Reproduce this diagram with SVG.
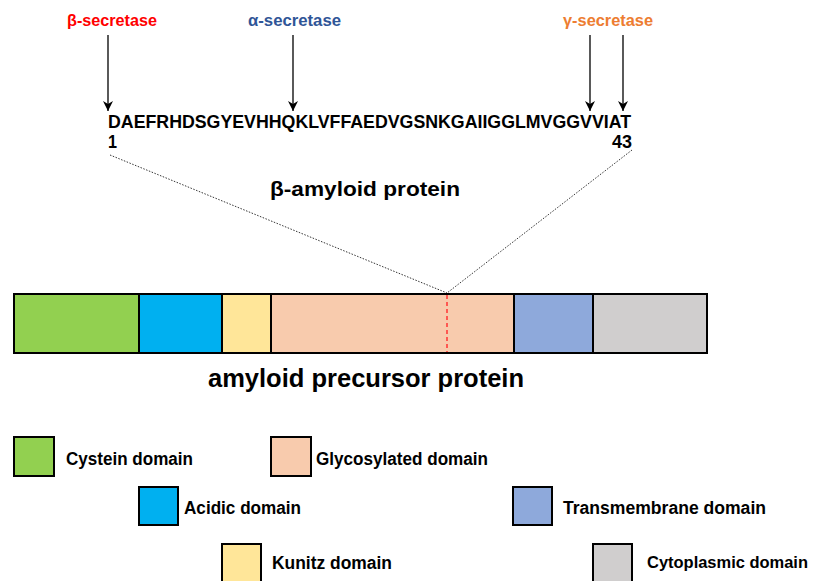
<svg xmlns="http://www.w3.org/2000/svg" width="816" height="581" viewBox="0 0 816 581">
<defs>
<marker id="ah" viewBox="0 0 10 10" refX="10" refY="5" markerWidth="10" markerHeight="10" markerUnits="userSpaceOnUse" orient="auto">
<path d="M0,0 L10,5 L0,10 L3,5 z" fill="#000"/>
</marker>
<style>
text{font-family:"Liberation Sans","DejaVu Sans",sans-serif;font-weight:bold;fill:#000}
.seg{stroke:#000;stroke-width:2}
.lg{stroke:#000;stroke-width:2}
.lt{font-size:18px}
.arrow{stroke:#000;stroke-width:1.3;fill:none}
.dot{stroke:#000;stroke-width:0.8;stroke-dasharray:1.5 1.5;fill:none}
</style>
</defs>
<rect width="816" height="581" fill="#fff"/>
<g id="labels">
<text x="67" y="26" font-size="16" style="fill:#FF0000" textLength="90" lengthAdjust="spacingAndGlyphs">β-secretase</text>
<text x="248" y="26" font-size="16" style="fill:#2F5597" textLength="93" lengthAdjust="spacingAndGlyphs">α-secretase</text>
<text x="563" y="26" font-size="16" style="fill:#ED7D31" textLength="90" lengthAdjust="spacingAndGlyphs">γ-secretase</text>
</g>
<g id="connectors">
<line class="arrow" x1="108" y1="35" x2="108" y2="111" marker-end="url(#ah)"/>
<line class="arrow" x1="293" y1="35" x2="293" y2="111" marker-end="url(#ah)"/>
<line class="arrow" x1="590" y1="35" x2="590" y2="111" marker-end="url(#ah)"/>
<line class="arrow" x1="623" y1="35" x2="623" y2="111" marker-end="url(#ah)"/>
<line class="dot" x1="110" y1="155" x2="447" y2="293"/>
<line class="dot" x1="632" y1="150" x2="447" y2="293"/>
</g>
<g id="sequence">
<text x="108" y="128" font-size="17.5" textLength="523" lengthAdjust="spacingAndGlyphs">DAEFRHDSGYEVHHQKLVFFAEDVGSNKGAIIGGLMVGGVVIAT</text>
<text x="108" y="148" font-size="17.5" textLength="9" lengthAdjust="spacingAndGlyphs">1</text>
<text x="612" y="148" font-size="17.5" textLength="20" lengthAdjust="spacingAndGlyphs">43</text>
<text x="270" y="196" font-size="21" textLength="190" lengthAdjust="spacingAndGlyphs">β-amyloid protein</text>
</g>
<g id="app-bar">
<rect class="seg" x="14" y="294" width="125" height="59" fill="#92D050"/>
<rect class="seg" x="139" y="294" width="83" height="59" fill="#00B0F0"/>
<rect class="seg" x="222" y="294" width="49" height="59" fill="#FFE699"/>
<rect class="seg" x="271" y="294" width="243" height="59" fill="#F8CBAD"/>
<rect class="seg" x="514" y="294" width="79" height="59" fill="#8EA9DB"/>
<rect class="seg" x="593" y="294" width="114" height="59" fill="#D0CECE"/>
<line x1="447" y1="295" x2="447" y2="352" stroke="#FF3333" stroke-width="1.5" stroke-dasharray="4 3"/>
<text x="208" y="387" font-size="25" textLength="316" lengthAdjust="spacingAndGlyphs">amyloid precursor protein</text>
</g>
<g id="legend-cystein">
<rect class="lg" x="14" y="437" width="40" height="39" fill="#92D050"/>
<text class="lt" x="66" y="465" textLength="127" lengthAdjust="spacingAndGlyphs">Cystein domain</text>
</g>
<g id="legend-glycosylated">
<rect class="lg" x="271" y="437" width="40" height="39" fill="#F8CBAD"/>
<text class="lt" x="316" y="465" textLength="172" lengthAdjust="spacingAndGlyphs">Glycosylated domain</text>
</g>
<g id="legend-acidic">
<rect class="lg" x="139" y="487" width="39" height="38" fill="#00B0F0"/>
<text class="lt" x="184" y="514" textLength="117" lengthAdjust="spacingAndGlyphs">Acidic domain</text>
</g>
<g id="legend-transmembrane">
<rect class="lg" x="513" y="487" width="39" height="38" fill="#8EA9DB"/>
<text class="lt" x="563" y="514" textLength="203" lengthAdjust="spacingAndGlyphs">Transmembrane domain</text>
</g>
<g id="legend-kunitz">
<rect class="lg" x="222" y="544" width="39" height="38" fill="#FFE699"/>
<text class="lt" x="272" y="569" textLength="120" lengthAdjust="spacingAndGlyphs">Kunitz domain</text>
</g>
<g id="legend-cytoplasmic">
<rect class="lg" x="593" y="544" width="39" height="38" fill="#D0CECE"/>
<text x="647" y="568" font-size="17" textLength="161" lengthAdjust="spacingAndGlyphs">Cytoplasmic domain</text>
</g>
</svg>
